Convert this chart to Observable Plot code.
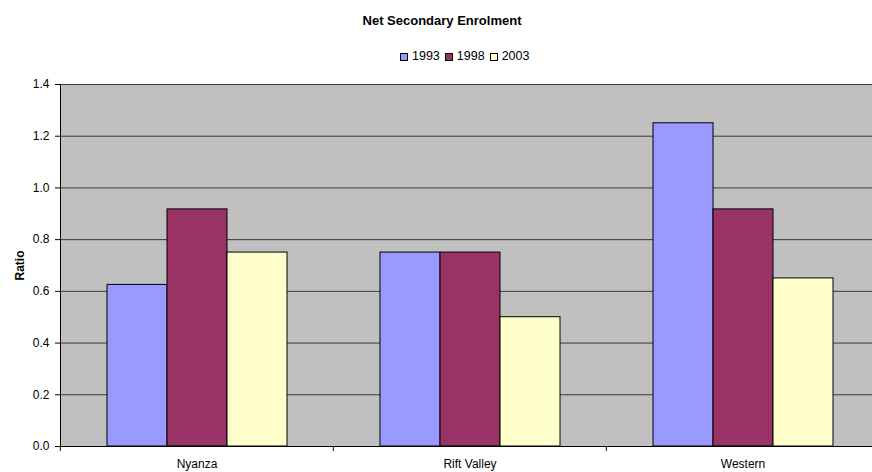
<!DOCTYPE html>
<html>
<head>
<meta charset="utf-8">
<script src="https://cdn.jsdelivr.net/npm/d3@7"></script>
<script src="https://cdn.jsdelivr.net/npm/@observablehq/plot@0.6"></script>
<style>
  html, body { margin: 0; padding: 0; background: #fff; overflow: hidden; }
  #chart { position: relative; width: 872px; height: 472px; font-family: "Liberation Sans", Arial, sans-serif; color: #000; }
  #title { position: absolute; top: 13px; left: 442px; transform: translateX(-50%); font-size: 13px; font-weight: bold; line-height: 16px; white-space: nowrap; }
  #legend { position: absolute; top: 49px; left: 400px; font-size: 12.5px; line-height: 14px; display: flex; align-items: center; white-space: nowrap; }
  #legend .item { display: flex; align-items: center; margin-right: 5px; }
  #legend .sw { width: 6px; height: 6px; border: 1px solid #000; margin-right: 4px; margin-top: 1px; }
  #plot { position: absolute; top: 74px; left: 0; }
</style>
</head>
<body>
<div id="chart">
  <div id="title">Net Secondary Enrolment</div>
  <div id="legend"></div>
  <div id="plot"></div>
</div>
<script>
// Provinces along the bottom axis
const regions = ["Nyanza", "Rift Valley", "Western"];
// Survey years (series)
const years = ["1993", "1998", "2003"];
const yearColors = ["#9999FF", "#993366", "#FFFFCC"];
// Net secondary enrolment ratio per province, one array per year
const values1993 = [0.625, 0.75, 1.25];
const values1998 = [0.917, 0.75, 0.917];
const values2003 = [0.75, 0.5, 0.65];
const yTicks = [0, 0.2, 0.4, 0.6, 0.8, 1.0, 1.2, 1.4];

const series = [values1993, values1998, values2003];
const data = [];
regions.forEach((region, i) => {
  years.forEach((year, j) => data.push({region, year, value: series[j][i]}));
});

// Legend
const legend = document.getElementById("legend");
years.forEach((y, i) => {
  const item = document.createElement("div");
  item.className = "item";
  const sw = document.createElement("span");
  sw.className = "sw";
  sw.style.background = yearColors[i];
  const label = document.createElement("span");
  label.textContent = y;
  item.append(sw, label);
  legend.append(item);
});

const width = 872, height = 398;
const marginLeft = 59, marginRight = -7;
const bandStep = (width - marginLeft - marginRight) / regions.length;

const chart = Plot.plot({
  width, height,
  marginTop: 10, marginBottom: 26, marginLeft, marginRight,
  style: {fontFamily: "'Liberation Sans', Arial, sans-serif", fontSize: "12px", color: "#000", background: "transparent"},
  fx: {domain: regions, padding: 0, label: null},
  x: {domain: years, paddingInner: 0, paddingOuter: 0.75, axis: null},
  y: {domain: [0, 1.4], ticks: yTicks, label: null},
  color: {domain: years, range: yearColors},
  marks: [
    Plot.frame({fill: "#C0C0C0", stroke: "#C0C0C0", strokeWidth: 1}),
    Plot.gridY(yTicks.filter(d => d > 0), {stroke: "#222", strokeOpacity: 0.85, strokeWidth: 1}),
    Plot.barY(data, {fx: "region", x: "year", y: "value", fill: "year", stroke: "#000", strokeWidth: 1}),
    Plot.ruleY([0], {stroke: "#000", strokeWidth: 1}),
    Plot.frame({anchor: "left", stroke: "#000", facetAnchor: "left"}),
    Plot.axisY(yTicks, {tickSize: 5, tickPadding: 6, tickFormat: d3.format(".1f"), label: null}),
    Plot.axisY({ticks: [], label: "Ratio", labelAnchor: "center", labelArrow: "none", labelOffset: 45, fontWeight: "bold"}),
    Plot.axisFx({anchor: "bottom", tickSize: 5, tickFormat: () => "", label: null, dx: -bandStep / 2}),
    Plot.axisFx({anchor: "bottom", tickSize: 0, tickPadding: 13, label: null})
  ]
});
document.getElementById("plot").append(chart);
</script>
</body>
</html>
